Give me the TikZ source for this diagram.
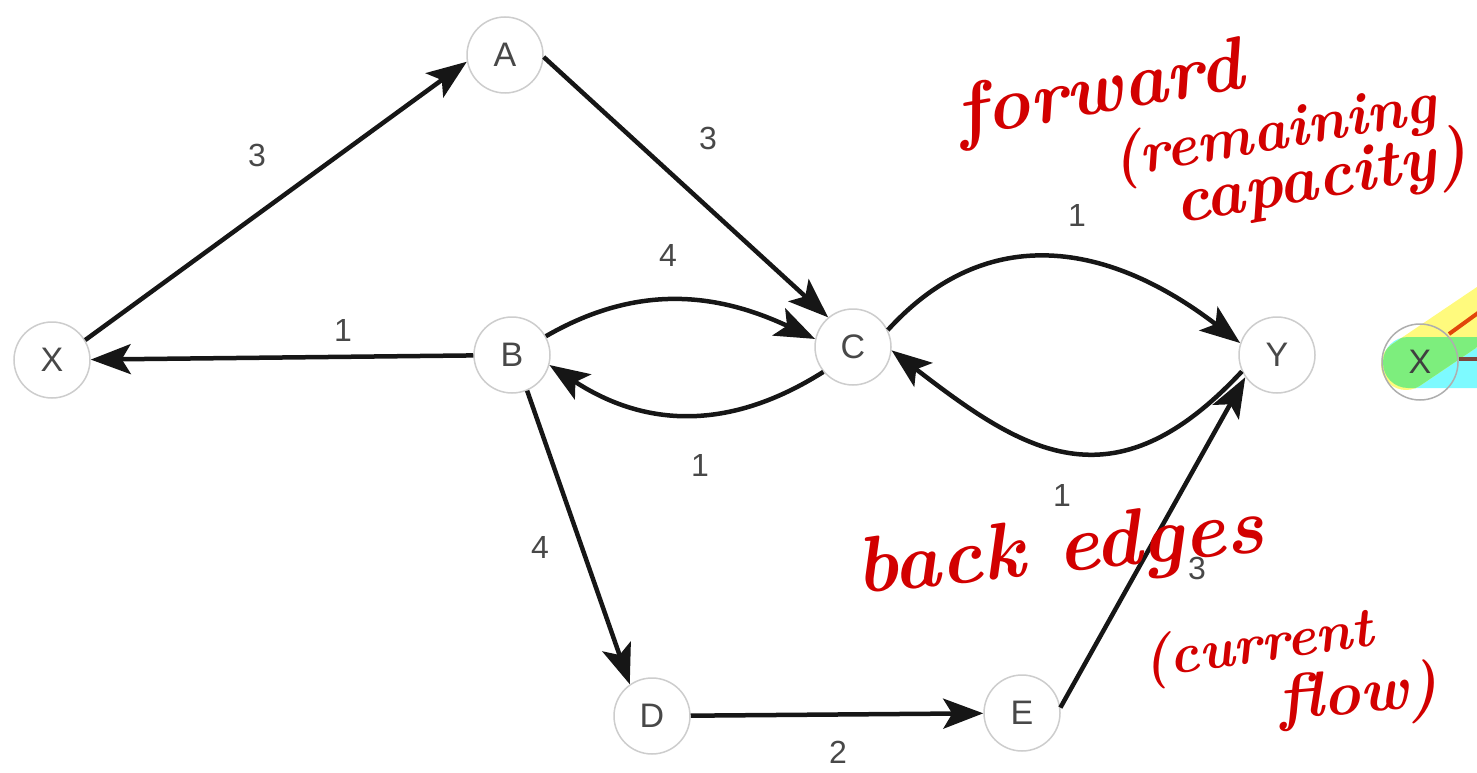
\documentclass[tikz,border=0pt]{standalone}
\usepackage{fontspec}
\usepackage{graphicx}
\newfontfamily\grsans{Liberation Sans}
\usetikzlibrary{arrows.meta}
\definecolor{lbl}{RGB}{72,72,72}
\definecolor{ring}{RGB}{205,205,205}
\definecolor{ink}{RGB}{210,0,0}
\definecolor{hlY}{RGB}{255,250,125}
\definecolor{hlC}{RGB}{125,250,255}
\definecolor{hlG}{RGB}{125,238,125}
\definecolor{edgec}{RGB}{22,22,22}
\newcommand\hwtext[2]{\resizebox{#1}{!}{#2}}
\begin{document}
\begin{tikzpicture}[x=1pt,y=-1pt,
  vtx/.style={circle, draw=ring, line width=1.5pt, fill=white, minimum size=76pt, inner sep=0pt,
    font=\grsans\fontsize{34}{34}\selectfont, text=lbl},
  wt/.style={font=\grsans\fontsize{32}{32}\selectfont, text=lbl, inner sep=0pt},
  arc/.style={line width=4.5pt, draw=edgec, -{Stealth[length=40pt,width=30pt,inset=9pt]}},
  hand/.style={font=\fontsize{80}{80}\selectfont\itshape\bfseries, text=ink, inner sep=0pt}]

\useasboundingbox (0,0) rectangle (1477,773);

% vertices
\node[vtx] (X) at (52,360) {X};
\node[vtx] (A) at (505,55) {A};
\node[vtx] (B) at (512,355) {B};
\node[vtx] (C) at (853,347) {C};
\node[vtx] (Y) at (1277,355) {Y};
\node[vtx] (D) at (652,716) {D};
\node[vtx] (E) at (1022,713) {E};

% edges
\draw[arc] (X.31) -- (A.190);
\draw[arc] (A.-3) -- (C.130);
\draw[arc] (B) -- (X);
\draw[arc] (B.29) .. controls +(90,-52) and +(-100,-47) .. (C.168);
\draw[arc] (C.-140) .. controls +(-95,60) and +(95,62) .. (B.-15);
\draw[arc] (C.26) .. controls +(100,-110) and +(-130,-100) .. (Y.162);
\draw[arc] (Y.-155) .. controls +(-130,140) and +(130,100) .. (C.-5);
\draw[arc] (B.-67) -- (D.125);
\draw[arc] (D) -- (E);
\draw[arc] (E.8) -- (Y.-145);

% weights
\node[wt] (w1) at (257,155) {3};
\node[wt] (w2) at (708,138) {3};
\node[wt] (w3) at (343,330) {1};
\node[wt] (w4) at (668,255) {4};
\node[wt] (w5) at (700,465) {1};
\node[wt] (w6) at (1077,215) {1};
\node[wt] (w7) at (1062,495) {1};
\node[wt] (w8) at (540,547) {4};
\node[wt] (w9) at (838,752) {2};
\node[wt] (w10) at (1197,568) {3};

% highlighted partial node at the right edge
\fill[hlC, rounded corners=25pt] (1383,337) rectangle (1620,388);
\fill[hlY, shift={(1406,365)}, rotate=34, rounded corners=25pt] (-25,-25) rectangle (220,25);
\begin{scope}
  \clip[shift={(1406,365)}, rotate=34, rounded corners=25pt] (-25,-25) rectangle (220,25);
  \fill[hlG, rounded corners=25pt] (1383,337) rectangle (1620,388);
\end{scope}
\node[circle, draw=ring!85!black, line width=1.5pt, minimum size=76pt, inner sep=0pt,
  font=\grsans\fontsize{34}{34}\selectfont, text=black!75] (X2) at (1420,362) {X};
\coordinate (r1) at (1449,334);
\coordinate (r2) at (1500,297);
\coordinate (b1) at (1459,359);
\coordinate (b2) at (1500,359);
\draw[line width=4pt, color={rgb,255:red,225;green,70;blue,10}] (r1) -- (r2);
\draw[line width=4pt, color={rgb,255:red,125;green,70;blue,60}] (b1) -- (b2);

% handwritten notes
\node[hand, rotate=10, anchor=base west] (h1) at (960,138) {\hwtext{290pt}{forward}};
\node[hand, rotate=10, anchor=base west] (h2) at (1115,178) {\hwtext{328pt}{(remaining}};
\node[hand, rotate=10, anchor=base west] (h3) at (1178,224) {\hwtext{296pt}{capacity)}};
\node[hand, rotate=6, anchor=base west] (h4) at (858,594) {\hwtext{410pt}{back edges}};
\node[hand, rotate=8, anchor=base west] (h5) at (1145,678) {\hwtext{232pt}{(current}};
\node[hand, rotate=5, anchor=base west] (h6) at (1280,720) {\hwtext{160pt}{flow)}};
\end{tikzpicture}
\end{document}
